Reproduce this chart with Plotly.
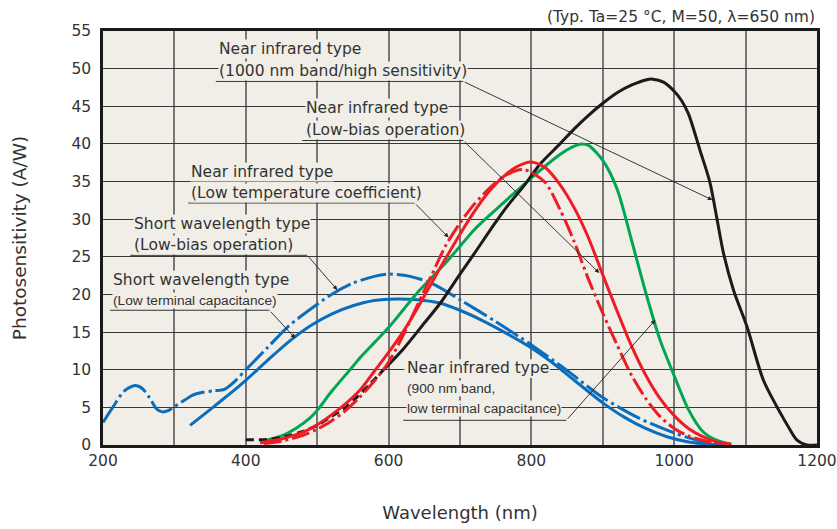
import plotly.graph_objects as go

# ---------------- data ----------------
x_tickvals = [200, 300, 400, 500, 600, 700, 800, 900, 1000, 1100, 1200]
x_ticktext = ["200", "", "400", "", "600", "", "800", "", "1000", "", "1200"]
y_tickvals = [0, 5, 10, 15, 20, 25, 30, 35, 40, 45, 50, 55]
y_ticktext = ["0", "5", "10", "15", "20", "25", "30", "35", "40", "45", "50", "55"]

# Short wavelength type (Low-bias operation) - blue dash-dot
sw_lb_x = [200, 215, 230, 245, 255, 265, 275, 283, 292, 300, 315, 325, 340, 355, 370, 385, 400, 430, 460, 490,
           520, 550, 580, 600, 630, 660, 700, 750, 800, 850, 900, 950, 1000, 1030, 1060, 1075]
sw_lb_y = [3.0, 5.2, 7.2, 7.9, 7.5, 6.3, 4.8, 4.4, 4.6, 5.1, 6.0, 6.6, 7.0, 7.2, 7.4, 8.5, 10.0, 12.9, 15.8, 18.0,
           20.0, 21.5, 22.4, 22.7, 22.4, 21.5, 19.3, 16.4, 13.3, 9.9, 6.3, 3.6, 1.6, 0.7, 0.2, 0.0]

# Short wavelength type (Low terminal capacitance) - blue solid
sw_ltc_x = [322, 350, 380, 400, 430, 460, 490, 520, 550, 580, 610, 640, 670, 700, 730, 760, 800, 830, 860, 900,
            930, 960, 990, 1020, 1050, 1070]
sw_ltc_y = [2.6, 4.7, 7.0, 8.6, 11.2, 13.7, 15.8, 17.4, 18.5, 19.2, 19.4, 19.3, 18.9, 17.9, 16.6, 15.1, 12.9, 10.9,
            8.6, 5.6, 3.7, 2.2, 1.1, 0.4, 0.1, 0.0]

# Near infrared type (900 nm band, low terminal capacitance) - green
nir900_x = [420, 450, 470, 490, 500, 520, 546, 560, 580, 600, 620, 640, 660, 680, 700, 720, 740, 760, 780, 800,
            820, 840, 860, 870, 880, 900, 920, 940, 960, 980, 1000, 1020, 1040, 1060, 1080]
nir900_y = [0.4, 1.2, 2.2, 3.6, 4.6, 7.1, 10.0, 11.6, 13.6, 15.6, 17.9, 20.2, 22.2, 24.2, 26.4, 28.6, 30.4, 32.1,
            33.8, 35.5, 37.1, 38.6, 39.7, 40.0, 39.8, 37.8, 34.0, 27.3, 20.3, 14.0, 9.2, 4.7, 1.8, 0.6, 0.1]

# Near infrared type (Low-bias operation) - red solid
nir_lb_x = [420, 450, 480, 500, 520, 540, 560, 580, 600, 620, 640, 660, 680, 700, 720, 740, 760, 780, 800, 820,
            840, 860, 880, 900, 920, 940, 960, 980, 1000, 1020, 1040, 1060, 1080]
nir_lb_y = [0.3, 0.8, 1.7, 2.7, 4.0, 5.5, 7.3, 9.8, 12.3, 15.0, 18.1, 21.5, 24.8, 28.0, 31.0, 33.6, 35.6, 37.0,
            37.6, 36.8, 34.6, 31.5, 27.5, 22.6, 17.8, 13.2, 9.3, 6.2, 3.9, 2.2, 1.1, 0.4, 0.1]

# Near infrared type (Low temperature coefficient) - red dash-dot
nir_ltc_x = [425, 450, 480, 500, 520, 540, 560, 580, 600, 620, 640, 660, 680, 700, 720, 740, 760, 780, 790, 800,
             820, 840, 860, 880, 900, 920, 940, 960, 980, 1000, 1020, 1050, 1070]
nir_ltc_y = [0.2, 0.5, 1.3, 2.1, 3.2, 4.6, 6.4, 8.5, 11.0, 14.5, 18.5, 22.5, 26.5, 29.5, 32.0, 34.0, 35.6, 36.5,
             36.6, 36.2, 34.8, 31.3, 27.0, 22.0, 17.5, 13.3, 9.3, 6.2, 3.8, 2.2, 1.2, 0.4, 0.1]

# Near infrared type (1000 nm band/high sensitivity) - black (dashed part, then solid part)
nir1000_dash_x = [400, 430, 450, 480, 500, 520, 540, 556, 575, 595]
nir1000_dash_y = [0.7, 0.75, 1.0, 1.8, 2.6, 3.8, 5.0, 6.4, 8.2, 10.2]
nir1000_x = [595, 620, 650, 672, 700, 719, 750, 766, 790, 812, 840, 860, 880, 900, 920, 940, 960, 970, 985, 1000,
             1010, 1020, 1036, 1050, 1060, 1069, 1083, 1102, 1125, 1149, 1160, 1172, 1186, 1200]
nir1000_y = [10.2, 12.7, 16.2, 18.8, 22.7, 25.3, 29.6, 31.7, 34.5, 37.3, 40.0, 42.0, 43.8, 45.4, 46.8, 47.8, 48.5,
             48.6, 48.2, 47.0, 45.8, 44.0, 39.2, 34.9, 30.0, 25.5, 20.6, 15.7, 8.6, 4.2, 2.4, 0.66, 0.0, 0.0]

# label texts
lab_nir1000 = ["Near infrared type", "(1000 nm band/high sensitivity)"]
lab_nir_lb = ["Near infrared type", "(Low-bias operation)"]
lab_nir_ltc = ["Near infrared type", "(Low temperature coefficient)"]
lab_sw_lb = ["Short wavelength type", "(Low-bias operation)"]
lab_sw_ltc = ["Short wavelength type", "(Low terminal capacitance)"]
lab_nir900 = ["Near infrared type", "(900 nm band,", "low terminal capacitance)"]
cond_text = "(Typ. Ta=25 °C, M=50, λ=650 nm)"

# ---------------- styles ----------------
BG = "#F1EEE7"
BLUE = "#0A6EBD"
RED = "#EE1C25"
GREEN = "#00A651"
BLACK = "#1E1A1A"
TXT = "#333333"
FONT = "DejaVu Sans"
NARROW = "Liberation Sans"
DD_BLUE = "26px,4px,3px,4px"
DD_RED = "18px,4px,3px,4px"

fig = go.Figure()


def add(x, y, color, dash="solid", width=3):
    fig.add_trace(go.Scatter(x=x, y=y, mode="lines", line=dict(color=color, width=width, dash=dash,
                                                               shape="spline", smoothing=0.8),
                             hoverinfo="skip"))


add(sw_ltc_x, sw_ltc_y, BLUE)
add(sw_lb_x, sw_lb_y, BLUE, DD_BLUE)
add(nir900_x, nir900_y, GREEN)
add(nir1000_dash_x, nir1000_dash_y, BLACK, "8px,5px")
add(nir1000_x, nir1000_y, BLACK)
add(nir_ltc_x, nir_ltc_y, RED, DD_RED)
add(nir_lb_x, nir_lb_y, RED)

annotations = []
shapes = []


def label(lines, x_left, y_first, dy, narrow_from, ul_y, ul_x0, ul_x1, head, mask_first=None):
    for i, t in enumerate(lines):
        fam = NARROW if i >= narrow_from else FONT
        size = 13.7 if i >= narrow_from else 15.5
        use_mask = (i == 0 and mask_first is not None)
        annotations.append(dict(x=x_left, y=y_first - i * dy, xref="x", yref="y", text=t, showarrow=False,
                                xanchor="left", yanchor="middle",
                                bgcolor="rgba(0,0,0,0)" if use_mask else BG, borderpad=0,
                                font=dict(family=fam, size=size, color=TXT)))
        if use_mask:
            x0, x1, y0, y1 = mask_first
            shapes.append(dict(type="rect", xref="x", yref="y", x0=x0, x1=x1, y0=y0, y1=y1,
                               fillcolor=BG, line=dict(width=0), layer="between"))
    shapes.append(dict(type="line", xref="x", yref="y", x0=ul_x0, x1=ul_x1, y0=ul_y, y1=ul_y,
                       line=dict(color="#333333", width=1), layer="above"))
    annotations.append(dict(x=head[0], y=head[1], ax=ul_x1, ay=ul_y, xref="x", yref="y", axref="x", ayref="y",
                            text="", showarrow=True, arrowhead=2, arrowsize=1, arrowwidth=0.9,
                            arrowcolor="#222222", standoff=0))


label(lab_nir1000, 361.5, 52.6, 2.92, 9, 48.3, 358, 704.6, (1053.4, 32.55))
label(lab_nir_lb, 483.3, 44.77, 2.92, 9, 40.45, 479, 704.6, (895.1, 22.85))
label(lab_nir_ltc, 321.5, 36.27, 2.8, 9, 32.15, 319.5, 636.5, (684.0, 27.57))
label(lab_sw_lb, 242.4, 29.36, 2.8, 9, 25.2, 238.2, 486.1, (528.2, 20.59))
label(lab_sw_ltc, 213.0, 21.92, 2.66, 1, 17.9, 210.2, 433.0, (469.3, 14.18))
label(lab_nir900, 624.8, 10.19, 2.7, 1, 3.28, 620.6, 848.9, (973.5, 16.61),
      mask_first=(622.0, 826.0, 8.9, 11.4))

annotations.append(dict(x=1.0, y=1.034, xref="paper", yref="paper", text=cond_text, showarrow=False,
                        xanchor="right", yanchor="middle", font=dict(family=FONT, size=15.5, color=TXT)))

fig.update_layout(
    width=837, height=529,
    margin=dict(l=103, r=20, t=31, b=84, autoexpand=False),
    paper_bgcolor="white", plot_bgcolor=BG,
    showlegend=False,
    font=dict(family=FONT, size=15, color=TXT),
    annotations=annotations, shapes=shapes,
)
fig.update_xaxes(range=[200, 1200], tickvals=x_tickvals, ticktext=x_ticktext, automargin=False,
                 showgrid=True, gridcolor="#767676", gridwidth=1.6, zeroline=False,
                 showline=True, linecolor="#1a1a1a", linewidth=2.5, mirror=True, ticks="",
                 tickfont=dict(family=FONT, size=15.5, color=TXT),
                 title=dict(text="Wavelength (nm)", font=dict(family=FONT, size=18, color=TXT), standoff=38))
fig.update_yaxes(range=[0, 55], tickvals=y_tickvals, ticktext=y_ticktext, automargin=False,
                 showgrid=True, gridcolor="#383838", gridwidth=1.3, zeroline=False,
                 showline=True, linecolor="#1a1a1a", linewidth=2.5, mirror=True, ticks="",
                 ticklabelstandoff=6,
                 tickfont=dict(family=FONT, size=15.5, color=TXT),
                 title=dict(text="Photosensitivity (A/W)", font=dict(family=FONT, size=18.5, color=TXT), standoff=40))

fig.write_html("out.html")
